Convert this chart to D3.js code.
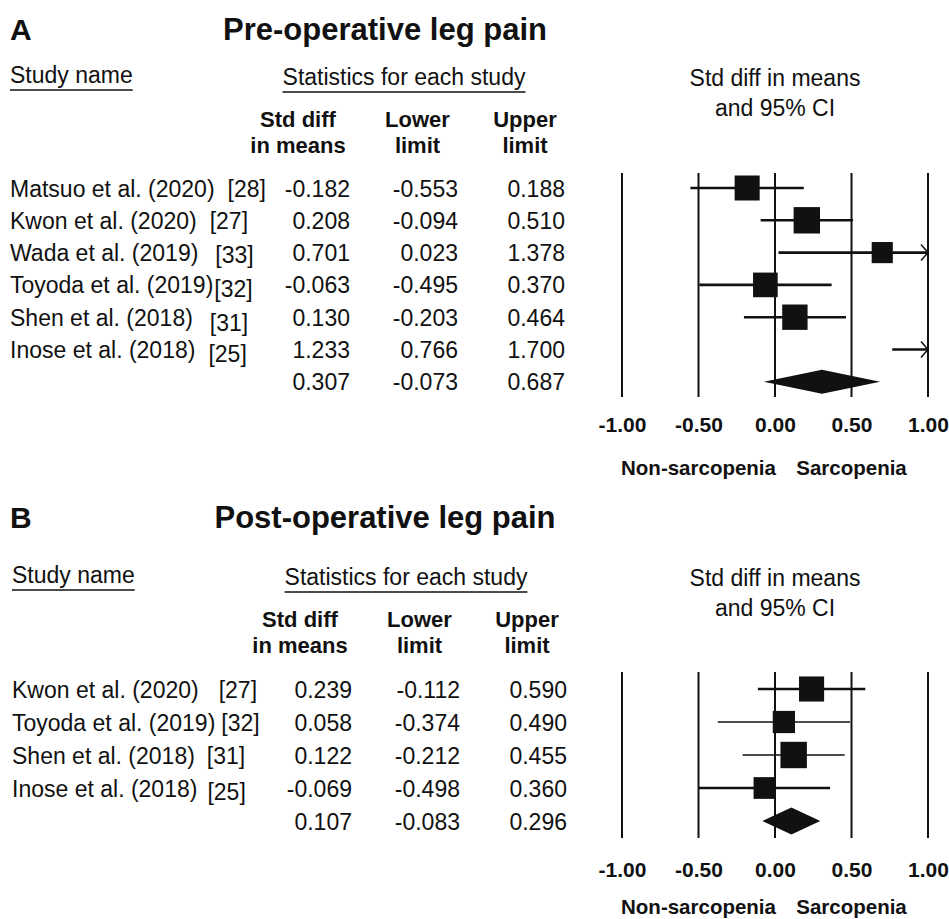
<!DOCTYPE html>
<html>
<head>
<meta charset="utf-8">
<script src="https://cdn.jsdelivr.net/npm/d3@7"></script>
<style>
  html, body { margin: 0; padding: 0; background: #fff; }
  svg { display: block; }
  text { font-family: "Liberation Sans", Arial, Helvetica, sans-serif; fill: #111; }
</style>
</head>
<body>
<svg id="chart" width="949" height="919"></svg>
<script>
// ---- Panel A: pre-operative leg pain ----
const studiesA = ["Matsuo et al. (2020)", "Kwon et al. (2020)", "Wada et al. (2019)",
                  "Toyoda et al. (2019)", "Shen et al. (2018)", "Inose et al. (2018)"];
const refsA = ["[28]", "[27]", "[33]", "[32]", "[31]", "[25]"];
const smdA = [-0.182, 0.208, 0.701, -0.063, 0.130, 1.233];
const lowerA = [-0.553, -0.094, 0.023, -0.495, -0.203, 0.766];
const upperA = [0.188, 0.510, 1.378, 0.370, 0.464, 1.700];
const weightA = [17.5, 19.5, 12.5, 17.0, 18.0, 15.5];
const pooledA = [0.307, -0.073, 0.687];

// ---- Panel B: post-operative leg pain ----
const studiesB = ["Kwon et al. (2020)", "Toyoda et al. (2019)", "Shen et al. (2018)", "Inose et al. (2018)"];
const refsB = ["[27]", "[32]", "[31]", "[25]"];
const smdB = [0.239, 0.058, 0.122, -0.069];
const lowerB = [-0.112, -0.374, -0.212, -0.498];
const upperB = [0.590, 0.490, 0.455, 0.360];
const weightB = [28.0, 22.0, 31.0, 21.0];
const pooledB = [0.107, -0.083, 0.296];

// ---- shared labels ----
const tickValues = [-1, -0.5, 0, 0.5, 1];
const columnHeads = [["Std diff", "in means"], ["Lower", "limit"], ["Upper", "limit"]];
const sideLabels = ["Non-sarcopenia", "Sarcopenia"];

const locale = d3.formatLocale({decimal: ".", thousands: ",", grouping: [3], currency: ["", ""], minus: "-"});
const fmt3 = locale.format(".3f");
const fmt2 = locale.format(".2f");

const svg = d3.select("#chart");
const INK = "#111";

function drawPanel(p) {
  const g = svg.append("g").attr("transform", `translate(${p.dx},0)`);
  const n = p.studies.length;
  const rowY = i => p.firstRow + i * p.rowStep;        // vertical centre of each row
  const x = d3.scaleLinear().domain([-1, 1]).range([622 - p.dx, 928 - p.dx]);
  const side = d3.scaleSqrt().domain([0, d3.max(p.weights)]).range([0, 26.4]);

  // Panel letter and title
  g.append("text").attr("x", 10 - p.dx).attr("y", p.titleY)
    .attr("font-size", 30).attr("font-weight", "bold").text(p.letter);
  g.append("text").attr("x", 385 - p.dx).attr("y", p.titleY).attr("text-anchor", "middle")
    .attr("font-size", 31).attr("font-weight", "bold").text(p.title);

  // Table headings
  const sn = g.append("text").attr("x", 10).attr("y", p.headY)
    .attr("font-size", 23).text("Study name");
  const snW = sn.node().getComputedTextLength();
  g.append("line").attr("x1", 10).attr("x2", 10 + snW)
    .attr("y1", p.headY + 7).attr("y2", p.headY + 7).attr("stroke", INK).attr("stroke-width", 1.6);

  const st = g.append("text").attr("x", 404).attr("y", p.headY + 2).attr("text-anchor", "middle")
    .attr("font-size", 23).text("Statistics for each study");
  const stW = st.node().getComputedTextLength();
  g.append("line").attr("x1", 404 - stW / 2).attr("x2", 404 + stW / 2)
    .attr("y1", p.headY + 9).attr("y2", p.headY + 9).attr("stroke", INK).attr("stroke-width", 1.6);

  const colCenters = [298, 417.5, 525];
  const colRight = [350, 458, 565];
  columnHeads.forEach((lines, c) => {
    lines.forEach((t, k) => {
      g.append("text").attr("x", colCenters[c]).attr("y", p.headY + 44 + k * 26)
        .attr("text-anchor", "middle").attr("font-size", 22).attr("font-weight", "bold").text(t);
    });
  });

  // Plot heading
  ["Std diff in means", "and 95% CI"].forEach((t, k) => {
    g.append("text").attr("x", x(0)).attr("y", p.headY + 3 + k * 30).attr("text-anchor", "middle")
      .attr("font-size", 23).text(t);
  });

  // Study rows: name, reference, statistics
  p.studies.forEach((name, i) => {
    const y = rowY(i) + 8.5;
    const t = g.append("text").attr("x", 10).attr("y", y).attr("font-size", 23).text(name);
    const w = t.node().getComputedTextLength();
    g.append("text").attr("x", 10 + w + p.refGap[i]).attr("y", y + p.refDrop[i])
      .attr("font-size", 23).text(p.refs[i]);
    [p.smd[i], p.lower[i], p.upper[i]].forEach((v, c) => {
      g.append("text").attr("x", colRight[c]).attr("y", y).attr("text-anchor", "end")
        .attr("font-size", 23).text(fmt3(v));
    });
  });
  // Pooled row
  p.pooled.forEach((v, c) => {
    g.append("text").attr("x", colRight[c]).attr("y", rowY(n) + 8.5).attr("text-anchor", "end")
      .attr("font-size", 23).text(fmt3(v));
  });

  // Vertical reference lines
  g.selectAll("line.ref").data(tickValues).join("line").attr("class", "ref")
    .attr("x1", d => x(d)).attr("x2", d => x(d))
    .attr("y1", p.lineTop).attr("y2", p.lineBottom)
    .attr("stroke", INK).attr("stroke-width", 2);

  // Tick labels via axis
  const axis = d3.axisBottom(x).tickValues(tickValues).tickFormat(fmt2).tickSize(0).tickPadding(0);
  const ax = g.append("g").attr("transform", `translate(0,${p.tickY})`).call(axis);
  ax.select(".domain").remove();
  ax.selectAll("text").attr("font-size", 21).attr("font-weight", "bold")
    .attr("fill", INK).attr("font-family", "Liberation Sans, Arial, sans-serif").attr("dy", 0);

  // Direction labels
  [-0.5, 0.5].forEach((v, k) => {
    g.append("text").attr("x", x(v)).attr("y", p.sideY).attr("text-anchor", "middle")
      .attr("font-size", 20.5).attr("font-weight", "bold").text(sideLabels[k]);
  });

  // Confidence intervals and boxes
  const [xmin, xmax] = x.domain();
  p.smd.forEach((m, i) => {
    const y = rowY(i);
    const lo = Math.max(p.lower[i], xmin), hi = Math.min(p.upper[i], xmax);
    g.append("line").attr("x1", x(lo)).attr("x2", x(hi)).attr("y1", y).attr("y2", y)
      .attr("stroke", INK).attr("stroke-width", p.ciWidth[i]);
    if (p.upper[i] > xmax) {
      g.append("path")
        .attr("d", `M${x(xmax) - 7},${y - 8}L${x(xmax)},${y}L${x(xmax) - 7},${y + 8}`)
        .attr("fill", "none").attr("stroke", INK).attr("stroke-width", 1.5);
    }
    if (p.lower[i] < xmin) {
      g.append("path")
        .attr("d", `M${x(xmin) + 7},${y - 8}L${x(xmin)},${y}L${x(xmin) + 7},${y + 8}`)
        .attr("fill", "none").attr("stroke", INK).attr("stroke-width", 1.5);
    }
    if (m >= xmin && m <= xmax) {
      const s = side(p.weights[i]);
      g.append("rect").attr("x", x(m) - s / 2).attr("y", y - s / 2)
        .attr("width", s).attr("height", s).attr("fill", INK);
    }
  });

  // Summary diamond
  const yd = rowY(n), [pm, pl, pu] = p.pooled;
  g.append("path")
    .attr("d", `M${x(pl)},${yd}L${x(pm)},${yd - p.diamondH}L${x(pu)},${yd}L${x(pm)},${yd + p.diamondH}Z`)
    .attr("fill", INK);
}

drawPanel({
  dx: 0, letter: "A", title: "Pre-operative leg pain", titleY: 40,
  headY: 83, firstRow: 188, rowStep: 32.3,
  lineTop: 173, lineBottom: 397, tickY: 432, sideY: 475, diamondH: 12,
  studies: studiesA, refs: refsA, smd: smdA, lower: lowerA, upper: upperA,
  weights: weightA, pooled: pooledA,
  refGap: [13, 13, 17, 1, 17, 13], refDrop: [0, 0, 2, 4, 5, 4],
  ciWidth: [2.6, 2.6, 2.6, 2.6, 2.6, 2.6]
});

drawPanel({
  dx: 2, letter: "B", title: "Post-operative leg pain", titleY: 528,
  headY: 583, firstRow: 689, rowStep: 33,
  lineTop: 672, lineBottom: 838, tickY: 877, sideY: 914, diamondH: 13.5,
  studies: studiesB, refs: refsB, smd: smdB, lower: lowerB, upper: upperB,
  weights: weightB, pooled: pooledB,
  refGap: [20, 6, 12, 10], refDrop: [0, 0, 0, 3],
  ciWidth: [2.6, 1.6, 1.6, 2.6]
});
</script>
</body>
</html>
